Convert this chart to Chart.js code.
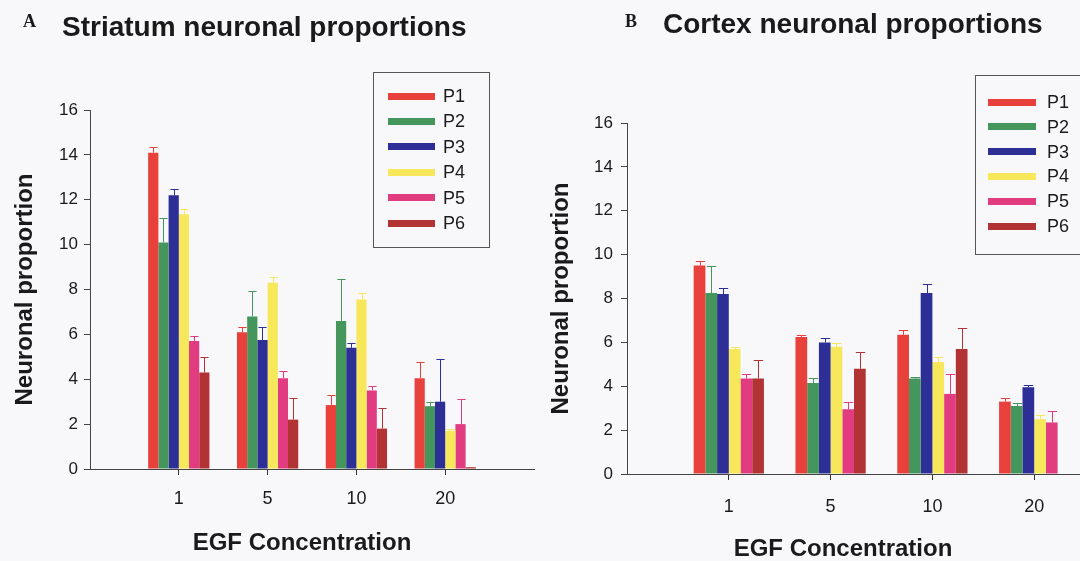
<!DOCTYPE html>
<html>
<head>
<meta charset="utf-8">
<script src="https://cdn.jsdelivr.net/npm/chart.js@4.4.1/dist/chart.umd.min.js"></script>
<style>
  html, body { margin: 0; padding: 0; background: #f8f8fb; overflow: hidden; }
  #page { position: relative; width: 1080px; height: 561px; overflow: hidden; font-family: "Liberation Sans", Arial, sans-serif; color: #1a1a1a; }
  canvas { position: absolute; top: 0; }
  .txt { position: absolute; white-space: nowrap; font-weight: bold; }
  .letter { font-family: "Liberation Serif", "Times New Roman", serif; font-size: 18px; line-height: 18px; }
  .title { font-size: 28px; line-height: 28px; }
  .xtitle { font-size: 24px; line-height: 24px; transform: translateX(-50%); }
  .legend { position: absolute; border: 1px solid #555; box-sizing: border-box; }
  .legend .sw { position: absolute; height: 7px; }
  .legend .lb { position: absolute; font-size: 18px; line-height: 18px; color: #1a1a1a; }
</style>
</head>
<body>
<div id="page">
  <canvas id="chartA" width="540" height="561" style="left:0"></canvas>
  <canvas id="chartB" width="620" height="561" style="left:540px"></canvas>

  <div class="txt letter" style="left:23px;top:12px">A</div>
  <div class="txt title" style="left:62px;top:13px">Striatum neuronal proportions</div>
  <div class="txt letter" style="left:625px;top:12px">B</div>
  <div class="txt title" style="left:663px;top:10px">Cortex neuronal proportions</div>

  <div class="txt xtitle" style="left:302px;top:530px">EGF Concentration</div>
  <div class="txt xtitle" style="left:843px;top:536px">EGF Concentration</div>

  <div id="legendA" class="legend" style="left:373px;top:72px;width:117px;height:176px"></div>
  <div id="legendB" class="legend" style="left:975px;top:75px;width:200px;height:180px"></div>
</div>

<script>
// EGF concentrations along the x axis
var concentrations = ['1', '5', '10', '20'];
var seriesNames = ['P1', 'P2', 'P3', 'P4', 'P5', 'P6'];
var seriesColors = ['#e8413b', '#45965c', '#2d2f96', '#f6e85a', '#e23c80', '#b23334'];
var yTicks = [0, 2, 4, 6, 8, 10, 12, 14, 16];

// striatum: one row per passage, one value per concentration
var striatumP1 = [14.1, 6.1, 2.85, 4.05];
var striatumP2 = [10.1, 6.8, 6.6, 2.8];
var striatumP3 = [12.2, 5.75, 5.4, 3.0];
var striatumP4 = [11.35, 8.3, 7.55, 1.7];
var striatumP5 = [5.7, 4.05, 3.5, 2.0];
var striatumP6 = [4.3, 2.2, 1.8, 0.08];
var striatumErrP1 = [0.27, 0.22, 0.45, 0.7];
var striatumErrP2 = [1.1, 1.15, 1.85, 0.17];
var striatumErrP3 = [0.3, 0.6, 0.22, 1.9];
var striatumErrP4 = [0.25, 0.27, 0.3, 0.1];
var striatumErrP5 = [0.22, 0.33, 0.2, 1.1];
var striatumErrP6 = [0.7, 0.95, 0.9, 0];

// cortex
var cortexP1 = [9.5, 6.25, 6.35, 3.3];
var cortexP2 = [8.25, 4.15, 4.35, 3.1];
var cortexP3 = [8.2, 6.0, 8.25, 3.95];
var cortexP4 = [5.7, 5.8, 5.1, 2.5];
var cortexP5 = [4.35, 2.95, 3.65, 2.35];
var cortexP6 = [4.35, 4.8, 5.7, 0];
var cortexErrP1 = [0.22, 0.1, 0.23, 0.15];
var cortexErrP2 = [1.25, 0.22, 0.05, 0.15];
var cortexErrP3 = [0.3, 0.2, 0.42, 0.12];
var cortexErrP4 = [0.08, 0.18, 0.22, 0.18];
var cortexErrP5 = [0.2, 0.33, 0.9, 0.53];
var cortexErrP6 = [0.83, 0.77, 0.96, 0];

var striatumValues = [striatumP1, striatumP2, striatumP3, striatumP4, striatumP5, striatumP6];
var striatumErrors = [striatumErrP1, striatumErrP2, striatumErrP3, striatumErrP4, striatumErrP5, striatumErrP6];
var cortexValues = [cortexP1, cortexP2, cortexP3, cortexP4, cortexP5, cortexP6];
var cortexErrors = [cortexErrP1, cortexErrP2, cortexErrP3, cortexErrP4, cortexErrP5, cortexErrP6];

// empty slot on each side of the four groups
var axisLabels = [''].concat(concentrations, ['']);
function padded(arr) { return [null].concat(arr, [null]); }

// upward error bars with a small cap, same colour as the bar
var errorBars = {
	id: 'errorBars',
	afterDatasetsDraw: function(chart) {
		var ctx = chart.ctx;
		var yScale = chart.scales.y;
		chart.data.datasets.forEach(function(ds, i) {
			var meta = chart.getDatasetMeta(i);
			meta.data.forEach(function(bar, j) {
				var v = ds.data[j];
				var e = ds.errors[j];
				if (v == null || !e) return;
				var x = Math.round(bar.x) + 0.5;
				var yTop = Math.round(yScale.getPixelForValue(v + e)) + 0.5;
				var half = bar.width * 0.4;
				ctx.save();
				ctx.strokeStyle = ds.backgroundColor;
				ctx.lineWidth = 1;
				ctx.beginPath();
				ctx.moveTo(x, bar.y);
				ctx.lineTo(x, yTop);
				ctx.moveTo(x - half, yTop);
				ctx.lineTo(x + half, yTop);
				ctx.stroke();
				ctx.restore();
			});
		});
	}
};

function makeChart(id, values, errors, geo) {
	var datasets = values.map(function(vals, i) {
		return {
			label: seriesNames[i],
			data: padded(vals),
			errors: padded(errors[i]),
			backgroundColor: seriesColors[i],
			borderWidth: 0,
			barPercentage: 1.0,
			categoryPercentage: 0.69
		};
	});

	return new Chart(document.getElementById(id), {
		type: 'bar',
		data: { labels: axisLabels, datasets: datasets },
		plugins: [errorBars],
		options: {
			responsive: false,
			animation: false,
			layout: { padding: { top: geo.top, right: geo.right, bottom: 0, left: 0 } },
			plugins: { legend: { display: false }, tooltip: { enabled: false } },
			scales: {
				x: {
					offset: false,
					afterFit: function(scale) {
						scale.height = geo.xHeight;
						scale.paddingRight = 0;
					},
					grid: {
						offset: false,
						drawOnChartArea: false,
						tickLength: 6,
						tickWidth: 1,
						tickColor: function(c) {
							return c.index > 0 && c.index < axisLabels.length - 1 ? '#333' : 'rgba(0,0,0,0)';
						}
					},
					border: { color: '#444', width: 1 },
					ticks: {
						autoSkip: false,
						maxRotation: 0,
						padding: geo.xPad,
						color: '#1a1a1a',
						font: { family: '"Liberation Sans", Arial, sans-serif', size: 18 }
					}
				},
				y: {
					min: 0,
					max: 16,
					afterFit: function(scale) { scale.width = geo.yWidth; },
					afterBuildTicks: function(scale) {
						scale.ticks = yTicks.map(function(v) { return { value: v }; });
					},
					grid: { drawOnChartArea: false, tickLength: 6, tickColor: '#444' },
					border: { color: '#444', width: 1 },
					ticks: {
						padding: geo.yPad,
						color: '#1a1a1a',
						font: { family: '"Liberation Sans", Arial, sans-serif', size: 17 }
					},
					title: {
						display: true,
						text: 'Neuronal proportion',
						color: '#1a1a1a',
						padding: { top: geo.titlePad, bottom: 0 },
						font: { family: '"Liberation Sans", Arial, sans-serif', size: 24, weight: 'bold' }
					}
				}
			}
		}
	});
}

function makeLegend(id, geo) {
	var box = document.getElementById(id);
	seriesNames.forEach(function(name, i) {
		var cy = geo.first + i * geo.step;
		var sw = document.createElement('div');
		sw.className = 'sw';
		sw.style.left = geo.swLeft + 'px';
		sw.style.width = geo.swWidth + 'px';
		sw.style.top = (cy - 3.5) + 'px';
		sw.style.background = seriesColors[i];
		box.appendChild(sw);
		var lb = document.createElement('div');
		lb.className = 'lb';
		lb.style.left = geo.textLeft + 'px';
		lb.style.top = (cy - 9) + 'px';
		lb.textContent = name;
		box.appendChild(lb);
	});
}

makeChart('chartA', striatumValues, striatumErrors,
	{ top: 110, right: 6, xHeight: 92, yWidth: 90, xPad: 13, yPad: 6, titlePad: 11 });
makeChart('chartB', cortexValues, cortexErrors,
	{ top: 123, right: 24, xHeight: 87, yWidth: 87, xPad: 16, yPad: 8, titlePad: 7 });

makeLegend('legendA', { first: 23, step: 25.4, swLeft: 14, swWidth: 47, textLeft: 69 });
makeLegend('legendB', { first: 26, step: 24.8, swLeft: 12, swWidth: 48, textLeft: 71 });
</script>
</body>
</html>
